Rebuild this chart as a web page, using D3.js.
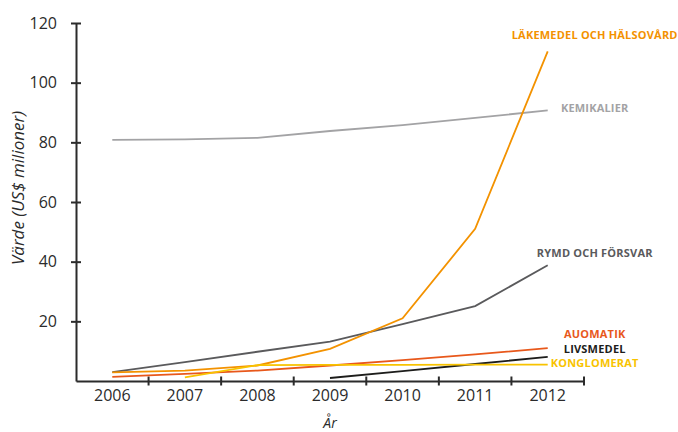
<!DOCTYPE html>
<html lang="sv">
<head>
  <meta charset="UTF-8">
  <title>Värde per sektor</title>
  <style>
    body, html { margin: 0; padding: 0; background: #fff; }
    #svg { display: block; }
  </style>
</head>
<body>
  <svg id="svg" width="678" height="432"></svg>

  <script src="https://d3js.org/d3.v7.min.js"></script>
  <script>
    // ----- DATA ----------
    const years = [2006, 2007, 2008, 2009, 2010, 2011, 2012]
    const yTicks = [20, 40, 60, 80, 100, 120]

    // null = no value that year
    const lakemedel   = [2.9, 3.5, 5.2, 10.8, 21.0, 51.0, 110.5]
    const kemikalier  = [80.8, 81.0, 81.5, 83.8, 85.8, 88.2, 90.7]
    const rymd        = [3.0, 6.3, 9.8, 13.2, 19.1, 25.1, 38.8]
    const automatik   = [1.4, 2.4, 3.5, 5.2, 7.0, 8.9, 11.0]
    const livsmedel   = [null, null, null, 1.0, 3.3, 5.7, 8.1]
    const konglomerat = [null, 1.2, 5.3, 5.4, 5.4, 5.5, 5.5]

    const seriesNames = ['LÄKEMEDEL OCH HÄLSOVÅRD', 'KEMIKALIER', 'RYMD OCH FÖRSVAR',
                         'AUOMATIK', 'LIVSMEDEL', 'KONGLOMERAT']
    const seriesValues = [lakemedel, kemikalier, rymd, automatik, livsmedel, konglomerat]

    // ----- CONSTANTS ----------
    const colors = ['#f39200', '#a3a3a5', '#5a5a5c', '#e8581b', '#1d1d1b', '#f8c300']
    const labelY = [35, 108, 253, 334, 349, 363]   // pixel centre of each end label
    const margin = {top: 23, left: 76, right: 94, bottom: 51}
    const width = 678, height = 432

    const svg = d3.select('#svg')

    // ----- SCALES ----------
    const xScale = d3.scaleBand()
      .domain(years)
      .range([margin.left, width - margin.right])
    const xMid = d => xScale(d) + xScale.bandwidth() / 2

    const yScale = d3.scaleLinear()
      .domain([0, 120])
      .range([height - margin.bottom, margin.top])

    // ----- AXES ----------
    const leftAxis = d3.axisLeft(yScale)
      .tickValues(yTicks)
      .tickSizeOuter(0)
      .tickSizeInner(5)
      .tickPadding(14)

    const yAxisG = svg.append('g')
      .attr('transform', `translate(${margin.left}, 0)`)
      .call(leftAxis)
    yAxisG.selectAll('.tick line').attr('x1', -5).attr('x2', 5)

    const bottomAxis = d3.axisBottom(xScale)
      .tickSize(0)
      .tickPadding(9)

    const xAxisG = svg.append('g')
      .attr('transform', `translate(0, ${yScale(0)})`)
      .call(bottomAxis)

    // tick marks sit between the years
    xAxisG.selectAll('.boundary')
      .data(years)
      .enter()
      .append('line')
      .attr('class', 'boundary')
      .attr('x1', d => xScale(d) + xScale.bandwidth())
      .attr('x2', d => xScale(d) + xScale.bandwidth())
      .attr('y1', -4.5)
      .attr('y2', 4.5)

    svg.selectAll('.domain, .tick line, .boundary')
      .attr('stroke', '#2b2b2b')
      .attr('stroke-width', 2)
    svg.selectAll('.tick text')
      .style('font-family', '"Open Sans", sans-serif')
      .style('font-size', '16px')
      .attr('fill', '#2b2b2b')

    // axis titles
    svg.append('text')
      .attr('x', xMid(2009))
      .attr('y', 428)
      .attr('text-anchor', 'middle')
      .style('font-family', '"Open Sans", sans-serif')
      .style('font-style', 'italic')
      .style('font-size', '14px')
      .attr('fill', '#2b2b2b')
      .text('År')

    svg.append('text')
      .attr('transform', 'translate(24, 188)rotate(-90)')
      .attr('text-anchor', 'middle')
      .style('font-family', '"Open Sans", sans-serif')
      .style('font-style', 'italic')
      .style('font-size', '17px')
      .attr('fill', '#2b2b2b')
      .text('Värde (US$ milioner)')

    // ----- LINES ----------
    const line = d3.line()
      .defined(d => d.v !== null)
      .x(d => xMid(d.year))
      .y(d => yScale(d.v))

    // draw back to front so the light lines sit underneath
    const order = [1, 2, 0, 4, 3, 5]
    order.forEach(i => {
      const pts = years.map((year, j) => ({year, v: seriesValues[i][j]}))
      svg.append('path')
        .datum(pts)
        .attr('fill', 'none')
        .attr('stroke', colors[i])
        .attr('stroke-width', 1.8)
        .attr('d', line)
    })

    // ----- END LABELS ----------
    svg.selectAll('.series-label')
      .data(seriesNames)
      .enter()
      .append('text')
      .attr('class', 'series-label')
      .attr('x', xMid(2012) + 47)
      .attr('y', (d, i) => labelY[i])
      .attr('dy', '0.36em')
      .attr('text-anchor', 'middle')
      .style('font-family', '"Open Sans", sans-serif')
      .style('font-weight', 'bold')
      .style('font-size', '11px')
      .style('letter-spacing', '0.2px')
      .attr('fill', (d, i) => colors[i])
      .text(d => d)
  </script>
</body>
</html>
